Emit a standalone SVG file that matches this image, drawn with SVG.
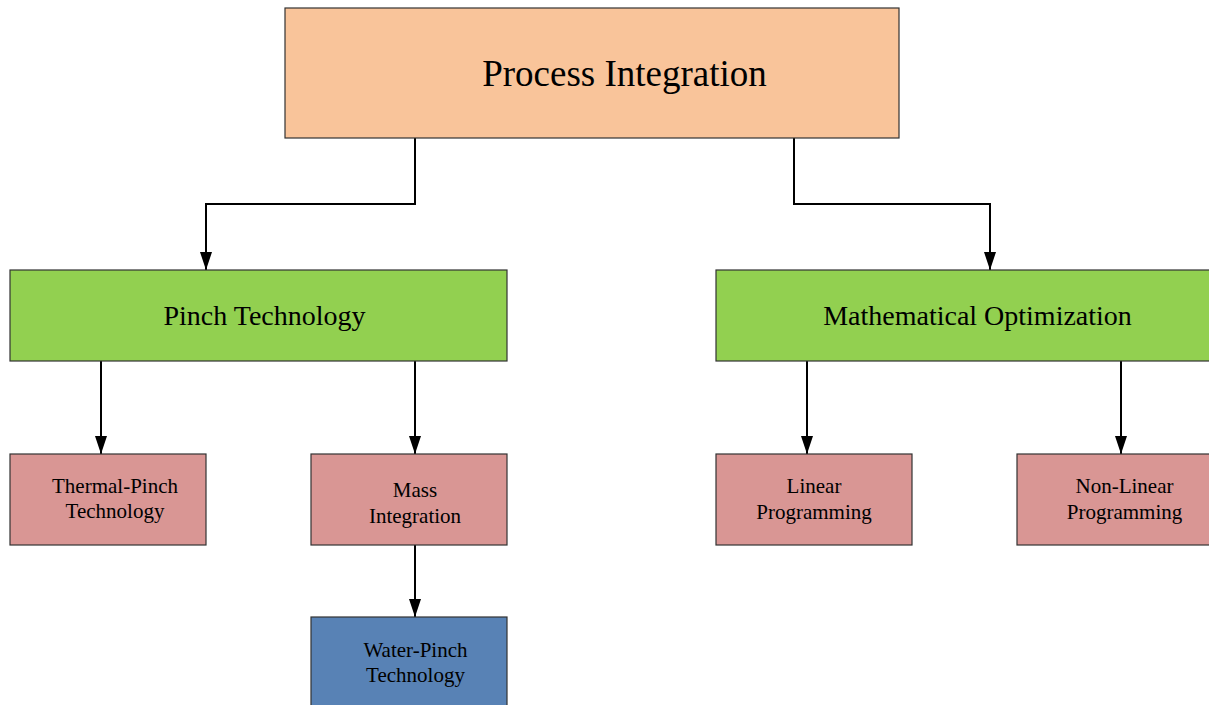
<svg xmlns="http://www.w3.org/2000/svg" width="1209" height="705" viewBox="0 0 1209 705">
<defs>
<marker id="ah" markerWidth="18" markerHeight="12" refX="18" refY="6" orient="auto" markerUnits="userSpaceOnUse" viewBox="0 0 18 12">
<path d="M0,0 L18,6 L0,12 Z" fill="#000"/>
</marker>
</defs>
<style>
.box{stroke:#333;stroke-width:1.2}
.top{fill:#F9C49A}
.grn{fill:#92D050}
.pnk{fill:#D99694}
.blu{fill:#5882B5}
text{font-family:"Liberation Serif","Times New Roman",serif;fill:#000;text-anchor:middle}
.t1{font-size:37px}
.t2{font-size:28px}
.t3{font-size:21px}
.con{fill:none;stroke:#000;stroke-width:2;marker-end:url(#ah)}
</style>
<rect width="1209" height="705" fill="#fff"/>
<g id="connectors">
<path class="con" d="M415,138 V204 H206 V270"/>
<path class="con" d="M794,138 V204 H990 V270"/>
<path class="con" d="M101,361 V454"/>
<path class="con" d="M415,361 V454"/>
<path class="con" d="M807,361 V454"/>
<path class="con" d="M1121,361 V454"/>
<path class="con" d="M415,545 V617"/>
</g>
<g id="process-integration">
<rect class="box top" x="285" y="8" width="614" height="130"/>
<text class="t1" x="624.5" y="86">Process Integration</text>
</g>
<g id="pinch-technology">
<rect class="box grn" x="10" y="270" width="497" height="91"/>
<text class="t2" x="264.5" y="325">Pinch Technology</text>
</g>
<g id="mathematical-optimization">
<rect class="box grn" x="716" y="270" width="497" height="91"/>
<text class="t2" x="977.5" y="325">Mathematical Optimization</text>
</g>
<g id="thermal-pinch">
<rect class="box pnk" x="10" y="454" width="196" height="91"/>
<text class="t3" x="115" y="493">Thermal-Pinch</text>
<text class="t3" x="115" y="518">Technology</text>
</g>
<g id="mass-integration">
<rect class="box pnk" x="311" y="454" width="196" height="91"/>
<text class="t3" x="415" y="497">Mass</text>
<text class="t3" x="415" y="523">Integration</text>
</g>
<g id="linear-programming">
<rect class="box pnk" x="716" y="454" width="196" height="91"/>
<text class="t3" x="814" y="493">Linear</text>
<text class="t3" x="814" y="519">Programming</text>
</g>
<g id="non-linear-programming">
<rect class="box pnk" x="1017" y="454" width="196" height="91"/>
<text class="t3" x="1124.5" y="493">Non-Linear</text>
<text class="t3" x="1124.5" y="519">Programming</text>
</g>
<g id="water-pinch">
<rect class="box blu" x="311" y="617" width="196" height="96"/>
<text class="t3" x="415.5" y="657">Water-Pinch</text>
<text class="t3" x="415.5" y="682">Technology</text>
</g>
</svg>
